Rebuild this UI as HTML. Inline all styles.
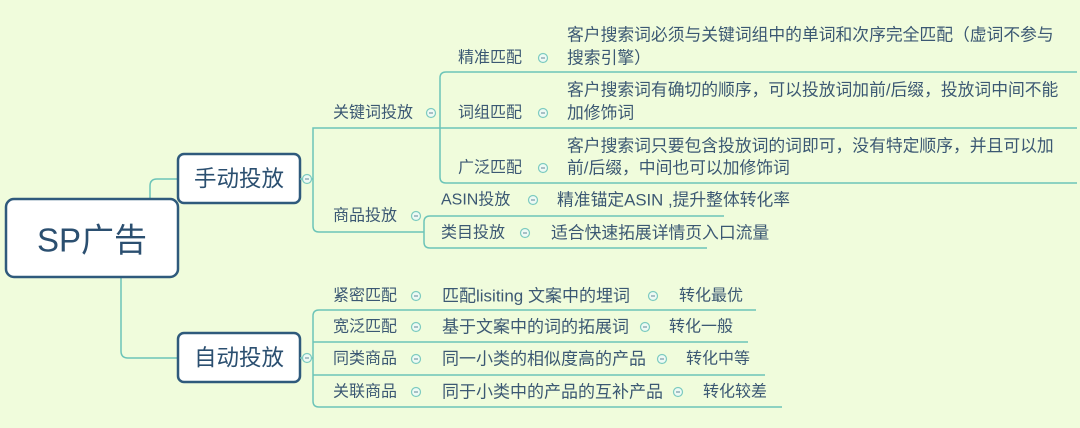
<!DOCTYPE html>
<html><head><meta charset="utf-8"><style>
html,body{margin:0;padding:0;background:#f0fcdc;}
svg{display:block}
text{font-family:"Liberation Sans","Noto Sans CJK SC",sans-serif;fill:#3b5873;font-size:16.8px;dominant-baseline:central}
.s{font-size:16px}
.d{font-size:17px}
.b{fill:#fff;stroke:#2f5a7c;stroke-width:2.5}
.l{fill:none;stroke:#6cc4b8;stroke-width:1.5}
.c{fill:#eefaf4;stroke:#7dcbc0;stroke-width:1.2}
.m{stroke:#7a9aa8;stroke-width:1.2}
</style></head><body>
<svg width="1080" height="428" viewBox="0 0 1080 428">
<rect width="1080" height="428" fill="#f0fcdc"/>
<path class="l" d="M150 199 V186 Q150 179 157 179 H178"/>
<path class="l" d="M121 278 V351 Q121 358 128 358 H178"/>
<rect class="b" x="6" y="199" width="172" height="78" rx="8"/>
<text x="92" y="240" text-anchor="middle" style="font-size:33px;fill:#2b4f70">SP广告</text>
<rect class="b" x="178" y="154" width="122" height="49" rx="6"/>
<text x="239" y="179" text-anchor="middle" style="font-size:22.5px;fill:#2b4f70">手动投放</text>
<rect class="b" x="178" y="333" width="122" height="49" rx="6"/>
<text x="239" y="358" text-anchor="middle" style="font-size:22.5px;fill:#2b4f70">自动投放</text>
<path class="l" d="M300 179 H313"/>
<path class="l" d="M440 128 H313 Q313 128 313 134 V226 Q313 232 319 232 H424"/>
<path class="l" d="M1077 72 H446 Q440 72 440 78 V177 Q440 183 446 183 H1077"/>
<path class="l" d="M440 128 H1077"/>
<path class="l" d="M724 216 H430 Q424 216 424 222 V242 Q424 248 430 248 H707"/>
<text class="s" x="333" y="113">关键词投放</text>
<text class="s" x="333" y="216">商品投放</text>
<text class="s" x="458" y="58">精准匹配</text>
<text class="s" x="458" y="113">词组匹配</text>
<text class="s" x="458" y="168">广泛匹配</text>
<text x="567" y="35">客户搜索词必须与关键词组中的单词和次序完全匹配（虚词不参与</text>
<text x="567" y="58">搜索引擎）</text>
<text x="567" y="90">客户搜索词有确切的顺序，可以投放词加前/后缀，投放词中间不能</text>
<text x="567" y="113">加修饰词</text>
<text x="567" y="146">客户搜索词只要包含投放词的词即可，没有特定顺序，并且可以加</text>
<text x="567" y="168">前/后缀，中间也可以加修饰词</text>
<text class="s" x="441" y="200">ASIN投放</text>
<text x="557" y="200">精准锚定ASIN ,提升整体转化率</text>
<text class="s" x="441" y="233">类目投放</text>
<text x="551" y="233">适合快速拓展详情页入口流量</text>
<path class="l" d="M300 358 H313"/>
<path class="l" d="M756 310 H319 Q313 310 313 316 V401 Q313 407 319 407 H782"/>
<path class="l" d="M313 342 H748"/>
<path class="l" d="M313 375 H765"/>
<text class="s" x="333" y="296">紧密匹配</text>
<text class="d" x="442" y="296">匹配lisiting 文案中的埋词</text>
<text class="s" x="679" y="296">转化最优</text>
<text class="s" x="333" y="327">宽泛匹配</text>
<text class="d" x="442" y="327">基于文案中的词的拓展词</text>
<text class="s" x="669" y="327">转化一般</text>
<text class="s" x="333" y="359">同类商品</text>
<text class="d" x="442" y="359">同一小类的相似度高的产品</text>
<text class="s" x="686" y="359">转化中等</text>
<text class="s" x="333" y="392">关联商品</text>
<text class="d" x="442" y="392">同于小类中的产品的互补产品</text>
<text class="s" x="703" y="392">转化较差</text>
<g>
<circle class="c" cx="307" cy="179" r="4.5"/><path class="m" d="M305 179h4"/>
<circle class="c" cx="307" cy="358" r="4.5"/><path class="m" d="M305 358h4"/>
<circle class="c" cx="431" cy="113" r="4.5"/><path class="m" d="M429 113h4"/>
<circle class="c" cx="416" cy="216" r="4.5"/><path class="m" d="M414 216h4"/>
<circle class="c" cx="543" cy="58" r="4.5"/><path class="m" d="M541 58h4"/>
<circle class="c" cx="543" cy="113" r="4.5"/><path class="m" d="M541 113h4"/>
<circle class="c" cx="543" cy="168" r="4.5"/><path class="m" d="M541 168h4"/>
<circle class="c" cx="533" cy="200" r="4.5"/><path class="m" d="M531 200h4"/>
<circle class="c" cx="525" cy="233" r="4.5"/><path class="m" d="M523 233h4"/>
<circle class="c" cx="416" cy="296" r="4.5"/><path class="m" d="M414 296h4"/>
<circle class="c" cx="416" cy="327" r="4.5"/><path class="m" d="M414 327h4"/>
<circle class="c" cx="416" cy="359" r="4.5"/><path class="m" d="M414 359h4"/>
<circle class="c" cx="416" cy="392" r="4.5"/><path class="m" d="M414 392h4"/>
<circle class="c" cx="653" cy="296" r="4.5"/><path class="m" d="M651 296h4"/>
<circle class="c" cx="645" cy="327" r="4.5"/><path class="m" d="M643 327h4"/>
<circle class="c" cx="662" cy="359" r="4.5"/><path class="m" d="M660 359h4"/>
<circle class="c" cx="678" cy="392" r="4.5"/><path class="m" d="M676 392h4"/>
</g>
</svg>
</body></html>
